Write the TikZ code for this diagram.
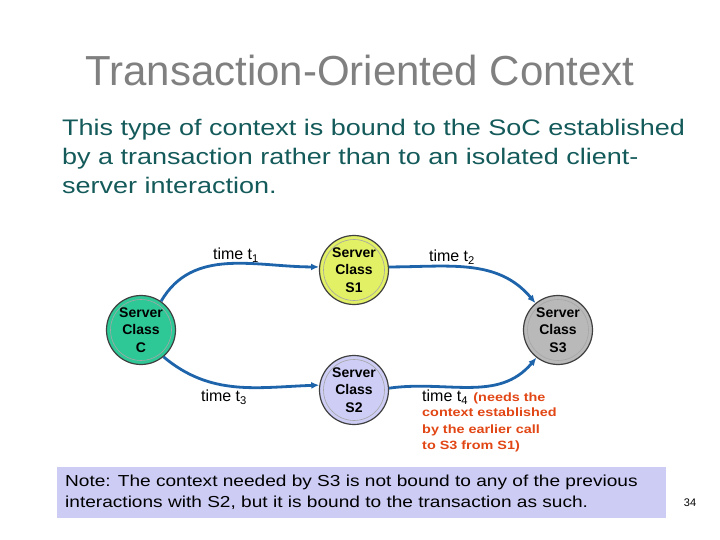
\documentclass[tikz,border=0pt]{standalone}
\usepackage{fontspec}
\setmainfont{Liberation Sans}
\newfontfamily\comicfont{Liberation Sans}[FakeStretch=1.2]
\usetikzlibrary{positioning,arrows.meta}
\definecolor{titlegray}{RGB}{128,128,128}
\definecolor{bodyteal}{RGB}{20,90,90}
\definecolor{flowblue}{RGB}{30,100,170}
\definecolor{noteblue}{RGB}{204,204,245}
\definecolor{needred}{RGB}{225,70,20}
\definecolor{classC}{RGB}{45,200,150}
\definecolor{classS1}{RGB}{225,240,100}
\definecolor{classS2}{RGB}{205,205,245}
\definecolor{classS3}{RGB}{185,185,185}

\begin{document}
\begin{tikzpicture}[x=1pt, y=-1pt,
    server/.style={circle, draw=black!75, line width=1.2pt, minimum size=69pt, inner sep=0pt,
        align=center, font=\fontsize{14}{17.5}\selectfont\bfseries},
    flow/.style={draw=flowblue, line width=2.8pt, -{Latex[length=8pt,width=7pt]}},
    time label/.style={font=\fontsize{16}{18}\selectfont, inner sep=0pt},
    need label/.style={font=\comicfont\fontsize{12}{16.5}\selectfont\bfseries, text=needred, align=left, inner sep=0pt}]
    \useasboundingbox (0,0) rectangle (720,540);

    \node[text=titlegray, font=\fontsize{42}{46}\selectfont] (title) at (360,70) {Transaction-Oriented Context};
    \node[text=bodyteal, font=\comicfont\fontsize{22.5}{29}\selectfont, align=left, anchor=north west, inner sep=0pt] (intro) at (62,119)
        {This type of context is bound to the SoC established\\
         by a transaction rather than to an isolated client-\\
         server interaction.};

    % servers
    \node[server, fill=classC] (C) at (141,330) {Server\\Class\\C};
    \node[server, fill=classS1] (S1) at (354,270) {Server\\Class\\S1};
    \node[server, fill=classS2] (S2) at (354,390) {Server\\Class\\S2};
    \node[server, fill=classS3] (S3) at (558,330) {Server\\Class\\S3};
    \foreach \n in {C,S1,S2,S3}
        \draw[black!35, line width=0.6pt] (\n.center) circle (30.5pt);

    % calls
    \draw[flow] (C.55) to[out=60, in=180] (S1.175);
    \draw[flow] (S1.5) to[out=0, in=130] (S3.130);
    \draw[flow] (C.-50) to[out=-40, in=182] (S2.172);
    \draw[flow] (S2.3) to[out=8, in=-130] (S3.-128);

    \node[time label] (t1) at (236,255) {time t\textsubscript{1}};
    \node[time label] (t2) at (452,257) {time t\textsubscript{2}};
    \node[time label] (t3) at (224,397) {time t\textsubscript{3}};
    \node[time label, anchor=west] (t4) at (422,397) {time t\textsubscript{4}};
    \node[need label, anchor=base west] (need) at ([xshift=5pt]t4.base east) {(needs the};
    \node[need label, anchor=north west] (needmore) at (422,408)
        {context established\\by the earlier call\\to S3 from S1)};

    % note
    \node[fill=noteblue, minimum width=609pt, minimum height=51pt, anchor=north west] (notebox) at (57,467) {};
    \node[font=\comicfont\fontsize{15.9}{21}\selectfont, align=left, anchor=west, inner sep=0pt] (note) at (65,492.5)
        {Note: The context needed by S3 is not bound to any of the previous\\
         interactions with S2, but it is bound to the transaction as such.};
    \node[font=\fontsize{11}{13}\selectfont] (page) at (690,503) {34};
\end{tikzpicture}
\end{document}
